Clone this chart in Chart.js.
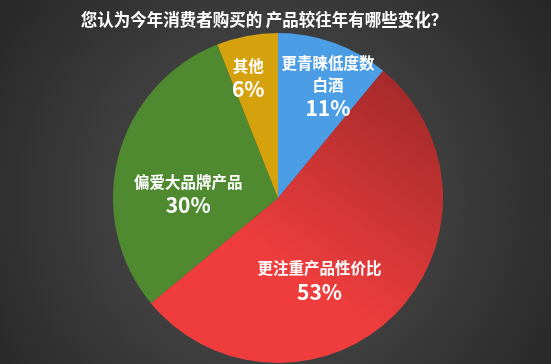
<!DOCTYPE html>
<html lang="zh">
<head>
  <meta charset="UTF-8">
  <title>消费者购买变化</title>
  <script src="https://cdn.jsdelivr.net/npm/chart.js"></script>
  <style>
    html, body { margin: 0; padding: 0; background: #333; }
    #wrap { width: 551px; height: 364px; }
  </style>
</head>
<body>
  <div id="wrap">
    <canvas id="pieChart" width="551" height="364"></canvas>
  </div>

  <script>
    // 数据
    const titleText = '您认为今年消费者购买的 产品较往年有哪些变化？';
    const categories = ['更青睐低度数\n白酒', '更注重产品性价比', '偏爱大品牌产品', '其他'];
    const values = [11, 53, 30, 6];
    const sliceColors = ['#4b9ee6', null, '#4f8a31', '#d5a10c'];

    // 标签位置（相对半径 / 角度偏移）
    const labelRadius = [0.75, 0.555, 0.545, 0.755];
    const labelShift = [4, 18, -11, -3];

    const bgPlugin = {
      id: 'bg',
      beforeDraw(chart) {
        const { ctx, width, height } = chart;
        const g = ctx.createRadialGradient(270, 200, 20, 270, 200, 340);
        g.addColorStop(0, '#525252');
        g.addColorStop(1, '#262626');
        ctx.save();
        ctx.fillStyle = g;
        ctx.fillRect(0, 0, width, height);
        // 标题
        ctx.fillStyle = '#ffffff';
        ctx.font = 'bold 16.5px "Noto Sans CJK SC", sans-serif';
        ctx.textAlign = 'center';
        ctx.textBaseline = 'middle';
        ctx.fillText(titleText, 264, 20);
        ctx.restore();
      }
    };

    const labelPlugin = {
      id: 'sliceLabels',
      afterDatasetsDraw(chart) {
        const { ctx } = chart;
        const meta = chart.getDatasetMeta(0);
        ctx.save();
        ctx.fillStyle = '#ffffff';
        ctx.textAlign = 'center';
        ctx.textBaseline = 'middle';
        meta.data.forEach((arc, i) => {
          const p = arc.getProps(['x', 'y', 'startAngle', 'endAngle', 'outerRadius']);
          const mid = (p.startAngle + p.endAngle) / 2 + labelShift[i] * Math.PI / 180;
          const r = p.outerRadius * labelRadius[i];
          const cx = p.x + Math.cos(mid) * r;
          const cy = p.y + Math.sin(mid) * r;
          const lines = categories[i].split('\n');
          const all = [...lines, values[i] + '%'];
          const step = 22;
          const y0 = cy - (all.length - 1) * step / 2;
          all.forEach((t, k) => {
            const isPct = k === all.length - 1;
            ctx.font = isPct ? 'bold 21px "Noto Sans CJK SC", sans-serif'
                             : 'bold 15.5px "Noto Sans CJK SC", sans-serif';
            ctx.fillText(t, cx, y0 + k * step + (isPct ? 1 : 0));
          });
        });
        ctx.restore();
      }
    };

    new Chart(document.getElementById('pieChart').getContext('2d'), {
      type: 'pie',
      data: {
        labels: categories,
        datasets: [{
          data: values,
          borderWidth: 0,
          backgroundColor: (c) => {
            const col = sliceColors[c.dataIndex];
            if (col) return col;
            const g = c.chart.ctx.createLinearGradient(430, 70, 290, 270);
            g.addColorStop(0, '#9c2828');
            g.addColorStop(1, '#ef3d3d');
            return g;
          }
        }]
      },
      options: {
        responsive: false,
        animation: false,
        layout: { padding: { top: 33, bottom: 1, left: 113, right: 108 } },
        plugins: {
          legend: { display: false },
          tooltip: { enabled: false },
          title: { display: false }
        }
      },
      plugins: [bgPlugin, labelPlugin]
    });
  </script>
</body>
</html>
